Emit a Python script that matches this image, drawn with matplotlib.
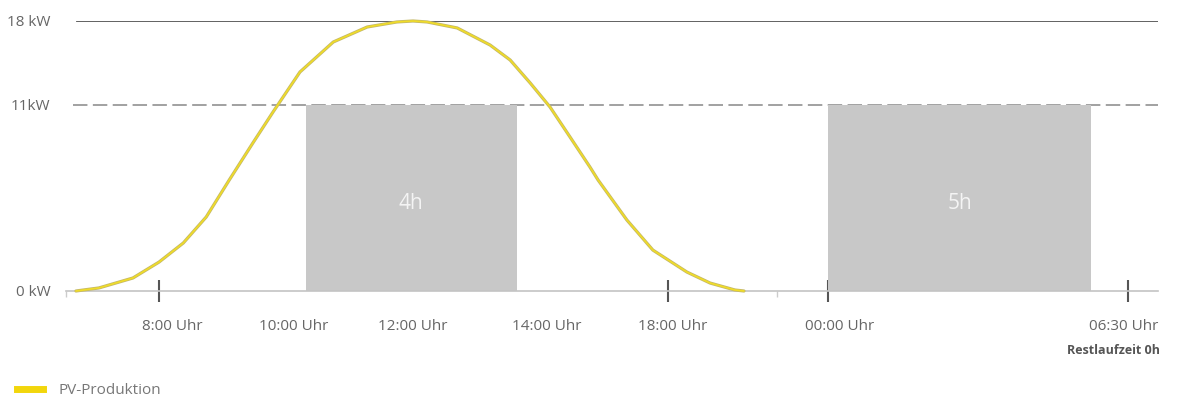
import numpy as np
import matplotlib
matplotlib.use("Agg")
import matplotlib.pyplot as plt
from matplotlib.lines import Line2D
from matplotlib import transforms

plt.rcParams['font.family'] = ['Open Sans', 'DejaVu Sans']

# PV production curve (hours since midnight, kW)
pv_hours = [6.66, 7.03, 7.58, 8.0, 8.36, 8.7, 9.04, 9.39, 9.69, 10.1,
            10.66, 11.23, 11.73, 12.0, 12.21, 12.66, 13.15, 13.45, 13.75,
            14.1, 14.76, 15.42, 15.69, 16.64, 17.5, 18.71, 19.58, 20.51, 20.85]
pv_kw = [0.0, 0.18, 0.77, 1.71, 2.84, 4.38, 6.56, 8.75, 10.59, 13.75,
         16.25, 17.5, 17.92, 18.0, 17.92, 17.42, 16.0, 14.75, 12.83,
         10.88, 9.11, 7.33, 6.56, 4.2, 2.42, 1.12, 0.47, 0.06, 0.0]

# charging blocks
block_start = [10.2, 24.0]
block_end = [13.55, 29.7]
block_kw = [11, 11]
block_labels = ["4h", "5h"]

# axis labels
y_ticks = [0, 11, 18]
y_labels = ["0 kW", "11kW", "18 kW"]
tick_hours = [8, 18, 24, 30.5]
label_hours = [8, 10, 12, 14, 18, 24, 30.5]
label_texts = ["8:00 Uhr", "10:00 Uhr", "12:00 Uhr", "14:00 Uhr",
               "18:00 Uhr", "00:00 Uhr", "06:30 Uhr"]
label_shift_px = [13, 0, 0, 0, 5, 12, -4]

# schematic (non linear) axes
HOUR_KNOTS = [0, 6.5, 8, 10, 12, 14, 18, 24, 30.5, 31.15, 40]
PX_KNOTS = [-337, 66, 159, 294, 413, 547, 668, 828, 1128, 1158, 1565]
KW_KNOTS = [-10, 0, 11, 18, 30]
YPX_KNOTS = [-169, 0, 186, 270, 450]


def xf(v):
    return np.interp(v, HOUR_KNOTS, PX_KNOTS)


def xi(v):
    return np.interp(v, PX_KNOTS, HOUR_KNOTS)


def yf(v):
    return np.interp(v, KW_KNOTS, YPX_KNOTS)


def yi(v):
    return np.interp(v, YPX_KNOTS, KW_KNOTS)


W, H = 1198, 403
fig = plt.figure(figsize=(W / 100, H / 100), dpi=100)
ax = fig.add_axes([66 / W, 1 - 291 / H, (1158 - 66) / W, 270 / H])
ax.set_xscale('function', functions=(xf, xi))
ax.set_yscale('function', functions=(yf, yi))
ax.set_xlim(6.5, 31.15)
ax.set_ylim(0, 18)

for s in ['top', 'right', 'left']:
    ax.spines[s].set_visible(False)
ax.spines['bottom'].set_color('#c4c4c4')
ax.spines['bottom'].set_linewidth(1.2)

# reference lines
ax.axhline(18, xmin=0.01, color='#555555', lw=1.3, zorder=1)
ax.axhline(11, xmin=0.006, color='#9a9a9a', lw=1.3, ls=(0, (8, 3)), zorder=1)

# blocks
for s, e, k, lab in zip(block_start, block_end, block_kw, block_labels):
    ax.bar(s, k, width=e - s, align='edge', color='#c8c8c8', zorder=2)
    mid = xi((xf(s) + xf(e)) / 2)
    ax.text(mid, 5.2, lab, ha='center', va='center', fontsize=15,
            color='#f4f4f4', zorder=3)

# PV curve
ax.plot(pv_hours, pv_kw, color='#c4b868', lw=2.3, zorder=4, clip_on=False,
        solid_joinstyle='round', solid_capstyle='round')
ax.plot(pv_hours, pv_kw, color='#f0dc28', lw=1.2, zorder=5, clip_on=False,
        solid_joinstyle='round', solid_capstyle='round')

# y ticks
ax.set_yticks(y_ticks)
ax.set_yticklabels(y_labels)
ax.tick_params(axis='y', length=0, pad=11, labelsize=11, labelcolor='#666666')

# x ticks (marks only)
ax.set_xticks(tick_hours)
ax.set_xticklabels([])
ax.tick_params(axis='x', which='major', direction='inout', length=16,
               width=1.5, color='#555555')
ax.set_xticks([6.5, 22.1], minor=True)
ax.tick_params(axis='x', which='minor', direction='out', length=4,
               width=1, color='#cccccc')

# x labels
base = transforms.blended_transform_factory(ax.transData, ax.transAxes)
for h, txt, dx in zip(label_hours, label_texts, label_shift_px):
    tr = transforms.offset_copy(base, fig=fig, x=dx, y=0, units='dots')
    ax.text(h, -35 / 270, txt, transform=tr, ha='center', va='center',
            fontsize=11, color='#666666')

ax.text(1.002, -59 / 270, "Restlaufzeit 0h", transform=ax.transAxes,
        ha='right', va='center', fontsize=9, fontweight='bold',
        color='#555555')

# legend
handle = Line2D([], [], color='#f2d60c', lw=5)
fig.legend(handles=[handle], labels=["PV-Produktion"], loc='center left',
           bbox_to_anchor=(17 / W, 1 - 391 / H), frameon=False,
           borderpad=0, borderaxespad=0, handlelength=1.7,
           handletextpad=1.0, fontsize=11, labelcolor='#777777')

fig.savefig("out.png", dpi=100)
